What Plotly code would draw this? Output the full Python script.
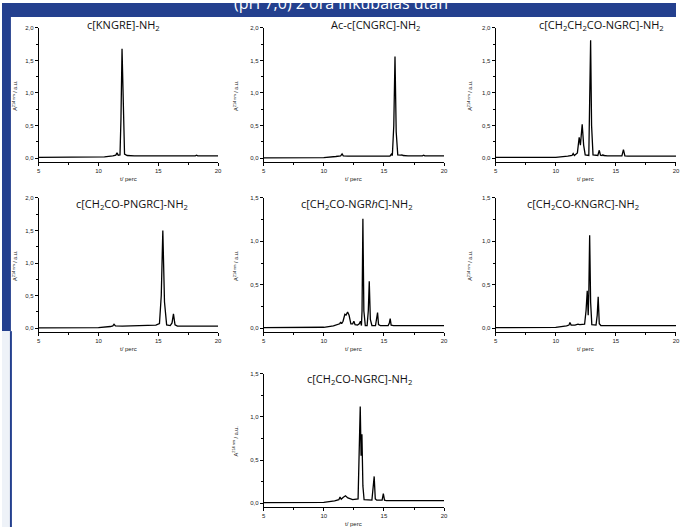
import plotly.graph_objects as go

W, H = 680, 527

# ---------------- data ----------------
titles = [
    "c[KNGRE]-NH<sub>2</sub>",
    "Ac-c[CNGRC]-NH<sub>2</sub>",
    "c[CH<sub>2</sub>CH<sub>2</sub>CO-NGRC]-NH<sub>2</sub>",
    "c[CH<sub>2</sub>CO-PNGRC]-NH<sub>2</sub>",
    "c[CH<sub>2</sub>CO-NGR<i>h</i>C]-NH<sub>2</sub>",
    "c[CH<sub>2</sub>CO-KNGRC]-NH<sub>2</sub>",
    "c[CH<sub>2</sub>CO-NGRC]-NH<sub>2</sub>",
]
y_titles = ["A<sup>214 nm</sup> / a.u."] * 7
x_title = "t/ perc"
x_ticks = [5, 10, 15, 20]

t1 = [5, 9.5, 10.5, 11.2, 11.45, 11.55, 11.65, 11.8, 11.88, 11.97, 12.07, 12.18, 12.4, 13, 18.1, 18.2, 18.3, 20]
a1 = [0.01, 0.012, 0.02, 0.035, 0.045, 0.08, 0.045, 0.05, 0.6, 1.68, 0.6, 0.06, 0.04, 0.035, 0.035, 0.045, 0.035, 0.035]

t2 = [5, 10, 11, 11.4, 11.52, 11.62, 12, 15.5, 15.62, 15.7, 15.82, 15.92, 16.02, 16.15, 16.4, 16.5, 16.6, 17, 18.2, 18.3, 18.4, 20]
a2 = [0.005, 0.008, 0.025, 0.035, 0.065, 0.035, 0.03, 0.03, 0.06, 0.04, 0.5, 1.56, 0.4, 0.05, 0.045, 0.05, 0.04, 0.035, 0.035, 0.045, 0.035, 0.035]

t3 = [5, 10, 11, 11.35, 11.45, 11.55, 11.8, 11.95, 12.05, 12.12, 12.2, 12.32, 12.45, 12.75, 12.83, 12.9, 12.98, 13.1, 13.5, 13.62, 13.72, 13.85, 13.92, 14.0, 14.3, 15.5, 15.63, 15.75, 16, 20]
a3 = [0.01, 0.012, 0.03, 0.04, 0.07, 0.04, 0.08, 0.32, 0.2, 0.4, 0.52, 0.2, 0.05, 0.04, 0.8, 1.81, 0.5, 0.05, 0.04, 0.12, 0.045, 0.04, 0.05, 0.04, 0.035, 0.035, 0.13, 0.035, 0.03, 0.03]

t4 = [5, 10, 11, 11.2, 11.3, 11.42, 12, 14, 14.8, 15.1, 15.25, 15.38, 15.52, 15.7, 16.0, 16.15, 16.27, 16.4, 16.6, 20]
a4 = [0.005, 0.008, 0.025, 0.035, 0.06, 0.035, 0.03, 0.035, 0.045, 0.07, 0.5, 1.5, 0.4, 0.05, 0.04, 0.08, 0.22, 0.05, 0.03, 0.03]

t5 = [5, 10, 10.8, 11.2, 11.32, 11.4, 11.48, 11.6, 11.75, 11.85, 11.98, 12.1, 12.25, 12.4, 12.5, 12.6, 12.8, 12.95, 13.05, 13.13, 13.18, 13.25, 13.33, 13.45, 13.6, 13.7, 13.78, 13.87, 14.0, 14.3, 14.4, 14.47, 14.55, 14.7, 15.35, 15.45, 15.52, 15.6, 15.8, 20]
a5 = [0.005, 0.01, 0.025, 0.04, 0.05, 0.07, 0.05, 0.08, 0.16, 0.15, 0.185, 0.15, 0.05, 0.05, 0.08, 0.04, 0.035, 0.05, 0.08, 0.03, 0.2, 1.26, 0.2, 0.03, 0.03, 0.2, 0.54, 0.1, 0.03, 0.03, 0.1, 0.18, 0.04, 0.03, 0.03, 0.06, 0.11, 0.035, 0.03, 0.03]

t6 = [5, 10, 10.9, 11.1, 11.18, 11.28, 11.6, 11.85, 12.0, 12.4, 12.52, 12.62, 12.7, 12.75, 12.82, 12.9, 13.0, 13.35, 13.45, 13.53, 13.62, 13.75, 20]
a6 = [0.005, 0.008, 0.025, 0.035, 0.065, 0.035, 0.035, 0.045, 0.04, 0.045, 0.2, 0.43, 0.15, 0.4, 1.07, 0.3, 0.04, 0.035, 0.15, 0.36, 0.05, 0.03, 0.03]

t7 = [5, 10, 10.9, 11.25, 11.35, 11.45, 11.6, 11.8, 12.0, 12.4, 12.85, 12.95, 13.03, 13.1, 13.17, 13.25, 13.35, 14.0, 14.1, 14.19, 14.28, 14.4, 14.85, 14.95, 15.05, 15.2, 20]
a7 = [0.005, 0.008, 0.025, 0.04, 0.07, 0.045, 0.065, 0.085, 0.06, 0.04, 0.05, 0.6, 1.12, 0.55, 0.8, 0.2, 0.04, 0.035, 0.15, 0.31, 0.05, 0.035, 0.035, 0.11, 0.035, 0.03, 0.03]

y_max = [2.0, 2.0, 2.0, 2.0, 1.5, 1.5, 1.5]

series = [(t1, a1), (t2, a2), (t3, a3), (t4, a4), (t5, a5), (t6, a6), (t7, a7)]

# ---------------- layout geometry (pixels) ----------------
cols_px = [(37, 218), (264, 446), (498, 680)]
rows_px = [(25, 160), (196, 331), (373, 507)]   # top, bottom (axis line)
zero_px = [156, 327, 503]
pos = [(0, 0), (0, 1), (0, 2), (1, 0), (1, 1), (1, 2), (2, 1)]
title_cx = [123, 377, 605, 131, 358, 586, 361]
title_cy = [22, 202, 378]
ytitle_dx = [24, 28, 26]

BLUE = "#24408e"

fig = go.Figure()
layout = dict(
    width=W, height=H, margin=dict(l=0, r=0, t=0, b=0),
    paper_bgcolor="white", plot_bgcolor="rgba(0,0,0,0)",
    showlegend=False, separators=",.",
    font=dict(family="Liberation Sans, Arial", color="#222"),
)

def px_x(p):
    return p / W

def px_y(p):
    return 1 - p / H

annotations = []
for i, (t, a) in enumerate(series):
    r, c = pos[i]
    n = "" if i == 0 else str(i + 1)
    x0, x1 = cols_px[c]
    top, bot = rows_px[r]
    z = zero_px[r]
    ppu = (z - top) / y_max[i]
    ymin = -(bot - z) / ppu
    fig.add_trace(go.Scatter(x=t, y=a, mode="lines", line=dict(color="black", width=1.3),
                             xaxis="x" + n, yaxis="y" + n, hoverinfo="skip"))
    layout["xaxis" + n] = dict(
        domain=[px_x(x0), min(1.0, px_x(x1))], range=[5, 20], anchor="y" + n,
        showline=True, linecolor="black", linewidth=1, showgrid=False, zeroline=False,
        ticks="outside", ticklen=3, tickwidth=1, tickcolor="black",
        tickmode="array", tickvals=x_ticks, ticktext=[str(v) for v in x_ticks],
        minor=dict(ticks="outside", ticklen=2, tickwidth=1, tickcolor="black", tickmode="array",
                   tickvals=[7.5, 12.5, 17.5]),
        tickfont=dict(size=6, color="#222"),
    )
    layout["yaxis" + n] = dict(
        domain=[px_y(bot), px_y(top)], range=[ymin, y_max[i]], anchor="x" + n,
        showline=True, linecolor="black", linewidth=1, showgrid=False, zeroline=False,
        ticks="outside", ticklen=3, tickwidth=1, tickcolor="black",
        tick0=0, dtick=0.5, tickformat=".1f",
        minor=dict(ticks="outside", ticklen=2, tickwidth=1, tickcolor="black", dtick=0.25, tick0=0),
        tickfont=dict(size=6, color="#222"),
    )
    # panel title
    annotations.append(dict(text=titles[i], x=px_x(title_cx[i]), y=px_y(title_cy[r]),
                            xref="paper", yref="paper", showarrow=False,
                            xanchor="center", yanchor="middle",
                            font=dict(family="Open Sans", size=11, color="#111")))
    # y title
    annotations.append(dict(text=y_titles[i], x=px_x(x0 - ytitle_dx[c]), y=px_y((top + bot) / 2),
                            xref="paper", yref="paper", showarrow=False, textangle=-90,
                            xanchor="center", yanchor="middle",
                            font=dict(size=5.5, color="#222")))
    # x title
    annotations.append(dict(text=x_title, x=px_x((x0 + x1) / 2), y=px_y(bot + 17),
                            xref="paper", yref="paper", showarrow=False,
                            xanchor="center", yanchor="middle",
                            font=dict(size=6, color="#222")))

# slide header title (cut off at top, as in the reference)
annotations.append(dict(text="(pH 7,0) 2 óra inkubálás után", x=px_x(342), y=px_y(0),
                        xref="paper", yref="paper", showarrow=False,
                        xanchor="center", yanchor="middle",
                        font=dict(family="Open Sans", size=16, color="white")))

shapes = [
    dict(type="rect", xref="paper", yref="paper", x0=0, x1=1, y0=px_y(14), y1=1,
         fillcolor=BLUE, line=dict(width=0), layer="below"),
    dict(type="rect", xref="paper", yref="paper", x0=0, x1=px_x(9), y0=px_y(330), y1=1,
         fillcolor=BLUE, line=dict(width=0), layer="below"),
    dict(type="rect", xref="paper", yref="paper", x0=0, x1=px_x(8), y0=0, y1=px_y(330),
         fillcolor="#eef2f8", line=dict(width=0), layer="below"),
    dict(type="rect", xref="paper", yref="paper", x0=px_x(8), x1=px_x(10), y0=0, y1=px_y(330),
         fillcolor=BLUE, line=dict(width=0), layer="below"),
]

layout["annotations"] = annotations
layout["shapes"] = shapes
fig.update_layout(**layout)
fig.write_html("out.html")
